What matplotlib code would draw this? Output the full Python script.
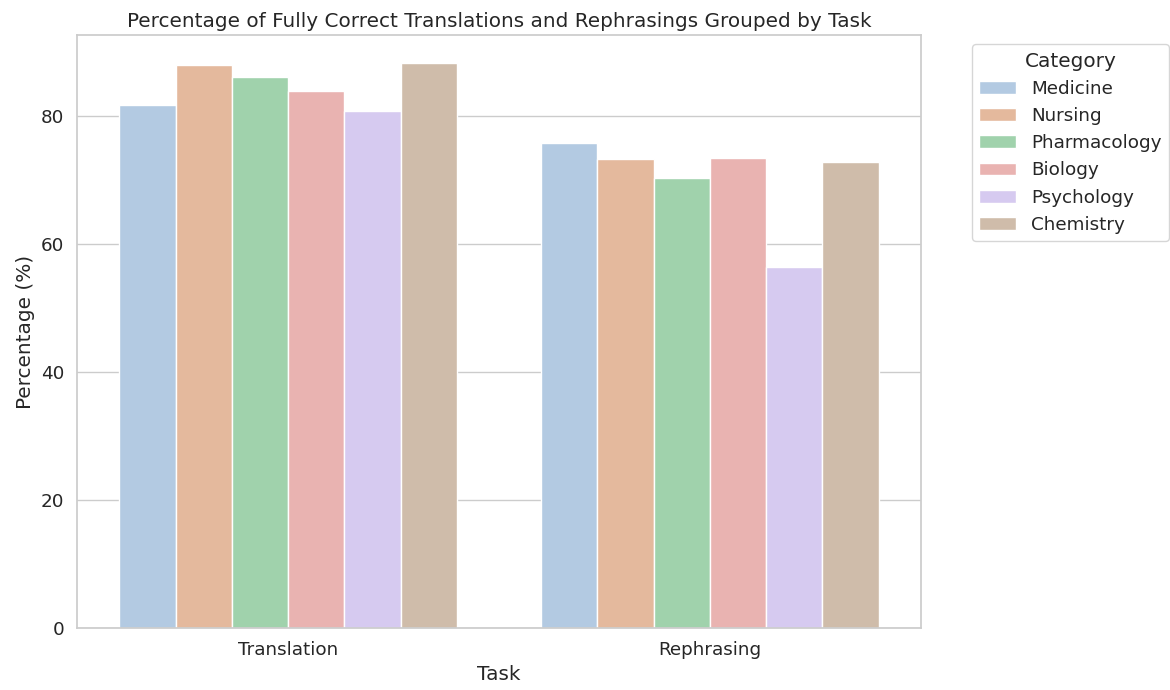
import matplotlib
matplotlib.use("Agg")
import matplotlib.pyplot as plt
import seaborn as sns
import pandas as pd

tasks = ["Translation", "Rephrasing"]
categories = ["Medicine", "Nursing", "Pharmacology", "Biology", "Psychology", "Chemistry"]
translation = [81.8, 88.1, 86.2, 84.0, 80.9, 88.3]
rephrasing = [75.8, 73.3, 70.3, 73.5, 56.5, 72.9]

rows = []
for cat, t, r in zip(categories, translation, rephrasing):
    rows.append({"Task": "Translation", "Category": cat, "Percentage": t})
    rows.append({"Task": "Rephrasing", "Category": cat, "Percentage": r})
df = pd.DataFrame(rows)

sns.set_theme(style="whitegrid", font_scale=1.2)
# pastel palette, washed out like the old seaborn default saturation
pal = [sns.desaturate(c, 0.75) for c in sns.color_palette("pastel", len(categories))]

fig, ax = plt.subplots(figsize=(11.7, 6.9), dpi=100)
sns.barplot(data=df, x="Task", y="Percentage", hue="Category",
            order=tasks, hue_order=categories, palette=pal, ax=ax)

ax.set_title("Percentage of Fully Correct Translations and Rephrasings Grouped by Task")
ax.set_xlabel("Task")
ax.set_ylabel("Percentage (%)")
ax.legend(title="Category", bbox_to_anchor=(1.05, 1), loc="upper left")

plt.subplots_adjust(left=0.066, right=0.787, top=0.949, bottom=0.09)
plt.savefig("out.png")
